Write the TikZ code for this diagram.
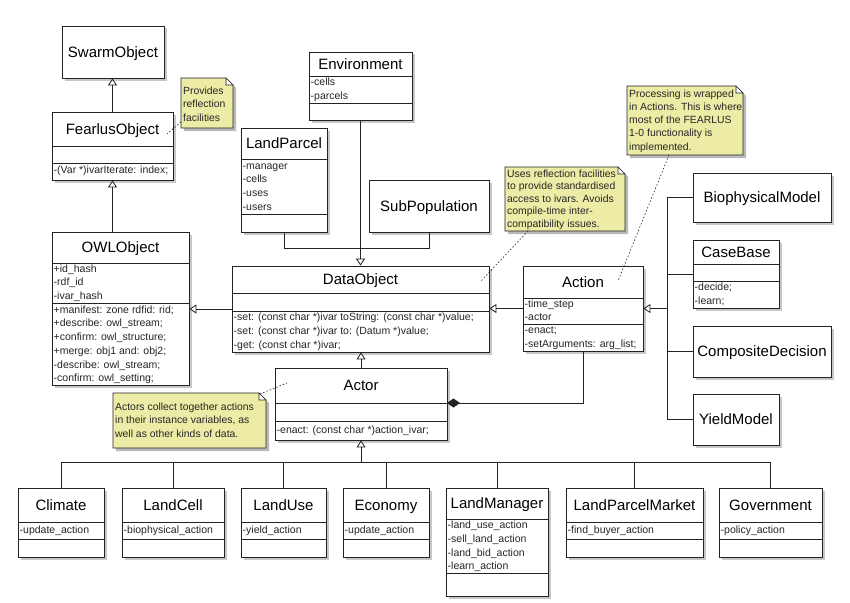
\documentclass[tikz,border=0pt]{standalone}
\usepackage{fontspec}
\setmainfont{Liberation Sans}
\usetikzlibrary{arrows.meta,fit,shadows}
\definecolor{notefill}{RGB}{236,236,166}
\definecolor{shadowc}{RGB}{185,185,185}
\definecolor{linec}{RGB}{35,35,35}
\newcommand\Ls{\strut}
\tikzset{
  clsbox/.style={draw=linec, line width=0.8pt, fill=white, inner sep=0pt,
    drop shadow={shadow xshift=2.5pt, shadow yshift=-2.5pt, fill=shadowc, opacity=0.8}},
  ttl/.style={font=\fontsize{15}{18}\selectfont, inner sep=0pt, text height=10.7pt, text depth=0pt},
  fld/.style={font=\fontsize{10.5}{13.7}\selectfont, align=left, inner xsep=1.5pt, inner ysep=0pt,
    anchor=north west, text=black!85},
  notetxt/.style={align=left, inner sep=0pt, anchor=north west, text=black!85},
  notebox/.style={draw=linec, line width=0.6pt, fill=notefill},
  inh/.style={draw=linec, line width=0.8pt, -{Triangle[open, length=7pt, width=9pt]}},
  assoc/.style={draw=linec, line width=0.8pt},
  comp/.style={draw=linec, line width=0.8pt, {Diamond[length=13pt, width=9pt]}-},
  notelink/.style={draw=linec, line width=0.6pt, dash pattern=on 1.5pt off 2pt},
}
% class with three compartments: name, x1, y1, x2, y2, title-bottom, attr-bottom, title
\newcommand\ucls[8]{%
  \coordinate (#1-nw) at (#2,#3);
  \coordinate (#1-se) at (#4,#5);
  \node[clsbox, fit=(#1-nw)(#1-se)] (#1) {};
  \node[ttl] (#1-title) at ({(#2+#4)/2},{(#3+#6)/2}) {#8};
  \coordinate (#1-t) at (#4,#6);
  \draw[assoc] (#2,#6) -- (#4,#6);
  \draw[assoc] (#2,#7) -- (#4,#7);
}
% plain class box: name, x1, y1, x2, y2, title
\newcommand\usim[6]{%
  \coordinate (#1-nw) at (#2,#3);
  \coordinate (#1-se) at (#4,#5);
  \node[clsbox, fit=(#1-nw)(#1-se)] (#1) {};
  \node[ttl] (#1-title) at ({(#2+#4)/2},{(#3+#5)/2}) {#6};
}
\newcommand\ufld[4]{\node[fld] (#1) at (#2,#3) {#4};}
% note: name, x1, y1, x2, y2, text top, baselineskip, text
\newcommand\unote[8]{%
  \fill[shadowc] (#2+3,#3+3) -- (#4+3-7,#3+3) -- (#4+3,#3+3+7) -- (#4+3,#5+3) -- (#2+3,#5+3) -- cycle;
  \draw[notebox] (#2,#3) -- (#4-7,#3) -- (#4,#3+7) -- (#4,#5) -- (#2,#5) -- cycle;
  \draw[notebox, fill=white] (#4-7,#3) -- (#4-7,#3+7) -- (#4,#3+7) -- cycle;
  \coordinate (#1-nw) at (#2,#3);
  \coordinate (#1-se) at (#4,#5);
  \node[inner sep=0pt, fit=(#1-nw)(#1-se)] (#1) {};
  \node[notetxt, font=\fontsize{10.4}{#7}\selectfont] (#1-text) at (#2+2,#6) {#8};
}
\begin{document}
\begin{tikzpicture}[x=1pt,y=-1pt]
\fill[white] (0,0) rectangle (850,602);
\useasboundingbox (0,0) rectangle (850,602);

% ---------- classes ----------
\usim{SwarmObject}{62}{26}{164}{78}{SwarmObject}

\ucls{FearlusObject}{52}{112}{173}{180}{146}{163}{FearlusObject}
\ufld{FearlusObject-m}{52}{164}{\Ls-(Var *)ivarIterate: index;}

\ucls{OWLObject}{52}{232}{189}{385}{263}{303}{OWLObject}
\ufld{OWLObject-a}{52}{262.5}{\Ls+id\_hash\\\Ls-rdf\_id\\\Ls-ivar\_hash}
\ufld{OWLObject-m}{52}{303.5}{\Ls+manifest: zone rdfid: rid;\\\Ls+describe: owl\_stream;\\\Ls+confirm: owl\_structure;\\\Ls+merge: obj1 and: obj2;\\\Ls-describe: owl\_stream;\\\Ls-confirm: owl\_setting;}

\ucls{Environment}{309}{52}{412}{120}{76}{103}{Environment}
\ufld{Environment-a}{309}{76}{\Ls-cells\\\Ls-parcels}

\ucls{LandParcel}{241}{128}{327}{232}{159}{214}{LandParcel}
\ufld{LandParcel-a}{241}{159.5}{\Ls-manager\\\Ls-cells\\\Ls-uses\\\Ls-users}

\usim{SubPopulation}{369}{180}{489}{232}{SubPopulation}

\ucls{DataObject}{232}{266}{489}{352}{293}{311}{DataObject}
\ufld{DataObject-m}{232}{311}{\Ls-set: (const char *)ivar toString: (const char *)value;\\\Ls-set: (const char *)ivar to: (Datum *)value;\\\Ls-get: (const char *)ivar;}

\ucls{Action}{523}{266}{643}{351}{298}{324}{Action}
\ufld{Action-a}{523}{297.5}{\Ls-time\_step\\\Ls-actor}
\ufld{Action-m}{523}{324}{\Ls-enact;\\\Ls-setArguments: arg\_list;}

\usim{BiophysicalModel}{693}{173}{831}{222}{BiophysicalModel}
\ucls{CaseBase}{693}{240}{779}{308}{264}{281}{CaseBase}
\ufld{CaseBase-m}{693}{281}{\Ls-decide;\\\Ls-learn;}
\usim{CompositeDecision}{693}{326}{831}{377}{CompositeDecision}
\usim{YieldModel}{693}{394}{779}{445}{YieldModel}

\ucls{Actor}{275}{368}{447}{440}{403}{421}{Actor}
\ufld{Actor-m}{275}{423.5}{\Ls-enact: (const char *)action\_ivar;}

\ucls{Climate}{18}{488}{104}{557}{522}{539}{Climate}
\ufld{Climate-a}{18}{523.3}{\Ls-update\_action}
\ucls{LandCell}{122}{488}{224}{557}{522}{539}{LandCell}
\ufld{LandCell-a}{122}{523.3}{\Ls-biophysical\_action}
\ucls{LandUse}{241}{488}{326}{557}{522}{539}{LandUse}
\ufld{LandUse-a}{241}{523.3}{\Ls-yield\_action}
\ucls{Economy}{343}{488}{429}{557}{522}{539}{Economy}
\ufld{Economy-a}{343}{523.3}{\Ls-update\_action}
\ucls{LandManager}{446}{488}{548}{596}{519}{573}{LandManager}
\ufld{LandManager-a}{446}{519}{\Ls-land\_use\_action\\\Ls-sell\_land\_action\\\Ls-land\_bid\_action\\\Ls-learn\_action}
\ucls{LandParcelMarket}{566}{488}{703}{557}{522}{539}{LandParcelMarket}
\ufld{LandParcelMarket-a}{566}{523.3}{\Ls-find\_buyer\_action}
\ucls{Government}{719}{488}{822}{557}{522}{539}{Government}
\ufld{Government-a}{719}{523.3}{\Ls-policy\_action}

% ---------- notes ----------
\unote{provnote}{181}{78}{233}{128}{84.5}{13.5}{\Ls Provides\\\Ls reflection\\\Ls facilities}
\unote{datanote}{505}{167}{625}{231}{168}{12.6}{\Ls Uses reflection facilities\\\Ls to provide standardised\\\Ls access to ivars. Avoids\\\Ls compile-time inter-\\\Ls compatibility issues.}
\unote{actionnote}{627}{86}{743}{155}{87.5}{13.3}{\Ls Processing is wrapped\\\Ls in Actions. This is where\\\Ls most of the FEARLUS\\\Ls 1-0 functionality is\\\Ls implemented.}
\unote{actornote}{113}{393}{266}{448}{401}{13.4}{\Ls Actors collect together actions\\\Ls in their instance variables, as\\\Ls well as other kinds of data.}

% ---------- connectors ----------
\draw[inh] (FearlusObject.north) -- (FearlusObject.north |- SwarmObject.south);
\draw[inh] (FearlusObject.south |- OWLObject.north) -- (FearlusObject.south);
\draw[inh] (DataObject.west) -- (DataObject.west -| OWLObject.east);
\draw[inh] (Environment.south) -- (Environment.south |- DataObject.north);
\draw[assoc] (LandParcel.south) -- ++(0,16) -| (SubPopulation.south);
\draw[inh] (Action.west) -- (Action.west -| DataObject.east);
\draw[inh] (Actor.north) -- (Actor.north |- DataObject.south);
\draw[comp] (Actor-t) -- (Actor-t -| Action.south) -- (Action.south);

\path (Action.east) ++(24,0) coordinate (rc);
\draw[inh] (rc) -- (Action.east);
\draw[assoc] (BiophysicalModel.west) -- (BiophysicalModel.west -| rc) -- (YieldModel.west -| rc) -- (YieldModel.west);
\draw[assoc] (CaseBase.west) -- (CaseBase.west -| rc);
\draw[assoc] (CompositeDecision.west) -- (CompositeDecision.west -| rc);

\path (Actor.south) ++(0,22) coordinate (bus);
\draw[inh] (bus) -- (Actor.south);
\draw[assoc] (Climate.north |- bus) -- (Government.north |- bus);
\foreach \c in {Climate,LandCell,LandUse,Economy,LandManager,LandParcelMarket,Government}
  \draw[assoc] (\c.north) -- (\c.north |- bus);

% note links
\coordinate (provend) at (167,134);
\coordinate (provstart) at (181,122);
\draw[notelink] (provstart) -- (provend);
\coordinate (dataend) at (481,281);
\coordinate (datastart) at (528,231);
\draw[notelink] (datastart) -- (dataend);
\coordinate (actend) at (618,281);
\coordinate (actstart) at (669,155);
\draw[notelink] (actstart) -- (actend);
\coordinate (actorend) at (287,383);
\coordinate (actorstart) at (260,394);
\draw[notelink] (actorstart) -- (actorend);
\end{tikzpicture}
\end{document}
